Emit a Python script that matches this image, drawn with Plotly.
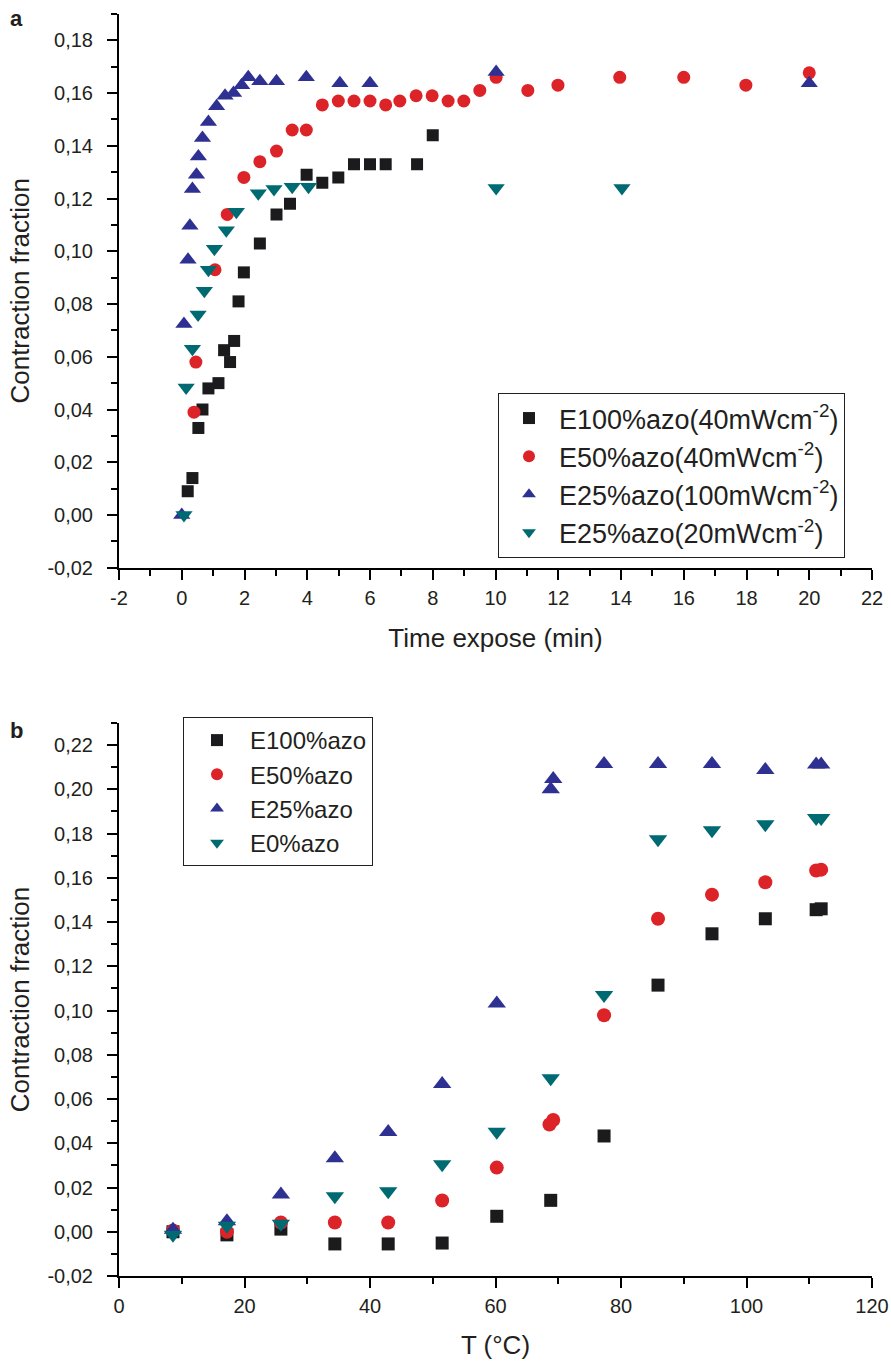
import plotly.graph_objects as go

# ---------------- Panel a: contraction vs exposure time ----------------
t_e100 = [0.19, 0.34, 0.53, 0.66, 0.85, 1.17, 1.35, 1.54, 1.67, 1.81, 1.98, 2.49, 3.02, 3.45, 3.98, 4.48, 4.99, 5.49, 6.0, 6.5, 7.5, 8.0]
y_e100 = [0.009, 0.014, 0.033, 0.040, 0.048, 0.050, 0.0625, 0.058, 0.066, 0.081, 0.092, 0.103, 0.114, 0.118, 0.129, 0.126, 0.128, 0.133, 0.133, 0.133, 0.133, 0.144]

t_e50 = [0.39, 0.45, 1.06, 1.45, 1.98, 2.49, 3.02, 3.52, 3.97, 4.48, 4.99, 5.49, 6.0, 6.5, 6.95, 7.47, 7.98, 8.49, 8.99, 9.5, 10.02, 11.03, 11.99, 13.96, 16.0, 17.98, 20.0]
y_e50 = [0.039, 0.058, 0.093, 0.114, 0.128, 0.134, 0.138, 0.146, 0.146, 0.1555, 0.157, 0.157, 0.157, 0.1555, 0.157, 0.159, 0.159, 0.157, 0.157, 0.161, 0.166, 0.161, 0.163, 0.166, 0.166, 0.163, 0.1677]

t_e25h = [0.0, 0.07, 0.2, 0.26, 0.34, 0.47, 0.53, 0.66, 0.85, 1.11, 1.38, 1.65, 1.91, 2.12, 2.49, 3.02, 3.97, 5.04, 6.0, 10.02, 20.0]
y_e25h = [0.0, 0.0724, 0.0968, 0.1097, 0.1236, 0.129, 0.136, 0.143, 0.149, 0.155, 0.159, 0.160, 0.163, 0.166, 0.1645, 0.1645, 0.166, 0.1637, 0.1637, 0.168, 0.1637]

t_e25l = [0.07, 0.14, 0.34, 0.52, 0.72, 0.85, 1.04, 1.42, 1.74, 2.44, 2.94, 3.52, 4.04, 10.02, 14.03]
y_e25l = [0.0, 0.0483, 0.063, 0.076, 0.085, 0.093, 0.101, 0.108, 0.115, 0.122, 0.1236, 0.1245, 0.1245, 0.124, 0.124]

names_a = ["E100%azo(40mWcm<sup>-2</sup>)", "E50%azo(40mWcm<sup>-2</sup>)",
           "E25%azo(100mWcm<sup>-2</sup>)", "E25%azo(20mWcm<sup>-2</sup>)"]

# ---------------- Panel b: contraction vs temperature ----------------
T_e100 = [8.6, 17.2, 25.8, 34.4, 42.9, 51.5, 60.2, 68.8, 77.3, 85.9, 94.5, 103.0, 111.1, 111.9]
c_e100 = [0.0, -0.0014, 0.0012, -0.0055, -0.0055, -0.0051, 0.007, 0.0142, 0.0433, 0.1115, 0.1347, 0.1415, 0.1456, 0.146]

T_e50 = [8.6, 17.2, 25.8, 34.4, 42.9, 51.5, 60.2, 68.6, 69.2, 77.3, 85.9, 94.5, 103.0, 111.1, 111.9]
c_e50 = [0.0006, 0.0, 0.0042, 0.0042, 0.0042, 0.0141, 0.029, 0.0485, 0.0505, 0.0979, 0.1415, 0.1524, 0.158, 0.1633, 0.1637]

T_e25 = [8.6, 17.2, 25.8, 34.4, 42.9, 51.5, 60.2, 68.8, 69.2, 77.3, 85.9, 94.5, 103.0, 111.1, 111.9]
c_e25 = [0.0009, 0.0047, 0.0168, 0.0332, 0.0451, 0.0668, 0.1032, 0.2001, 0.2047, 0.2115, 0.2115, 0.2115, 0.2088, 0.2112, 0.2112]

T_e0 = [8.6, 17.2, 25.8, 34.4, 42.9, 51.5, 60.2, 68.8, 77.3, 85.9, 94.5, 103.0, 111.1, 111.9]
c_e0 = [-0.0014, 0.0027, 0.0036, 0.016, 0.0183, 0.0305, 0.0452, 0.0694, 0.107, 0.1774, 0.1815, 0.1842, 0.187, 0.187]

names_b = ["E100%azo", "E50%azo", "E25%azo", "E0%azo"]

# tick labels
xa_vals = [-2, 0, 2, 4, 6, 8, 10, 12, 14, 16, 18, 20, 22]
xa_text = ["-2", "0", "2", "4", "6", "8", "10", "12", "14", "16", "18", "20", "22"]
ya_vals = [-0.02, 0.0, 0.02, 0.04, 0.06, 0.08, 0.10, 0.12, 0.14, 0.16, 0.18]
ya_text = ["-0,02", "0,00", "0,02", "0,04", "0,06", "0,08", "0,10", "0,12", "0,14", "0,16", "0,18"]
xb_vals = [0, 20, 40, 60, 80, 100, 120]
xb_text = ["0", "20", "40", "60", "80", "100", "120"]
yb_vals = [-0.02, 0.0, 0.02, 0.04, 0.06, 0.08, 0.10, 0.12, 0.14, 0.16, 0.18, 0.20, 0.22]
yb_text = ["-0,02", "0,00", "0,02", "0,04", "0,06", "0,08", "0,10", "0,12", "0,14", "0,16", "0,18", "0,20", "0,22"]

BLACK = "#1b1a1c"
RED = "#dc2328"
BLUE = "#2e3192"
TEAL = "#006a72"
colors = [BLACK, RED, BLUE, TEAL]
symbols = ["square", "circle", "triangle-up", "triangle-down"]
sizes = [12, 13, 15, 15]
FONT = "Liberation Sans, Arial, Helvetica, sans-serif"
TXT = "#231f20"

fig = go.Figure()

series_a = [(t_e100, y_e100), (t_e50, y_e50), (t_e25h, y_e25h), (t_e25l, y_e25l)]
for i, (xs, ys) in enumerate(series_a):
    fig.add_trace(go.Scatter(
        x=xs, y=ys, mode="markers", name=names_a[i],
        marker=dict(symbol=symbols[i], color=colors[i], size=sizes[i], line=dict(width=0)),
        xaxis="x", yaxis="y", legend="legend", legendgroup="a%d" % i))

series_b = [(T_e100, c_e100), (T_e50, c_e50), (T_e25, c_e25), (T_e0, c_e0)]
for i, (xs, ys) in enumerate(series_b):
    fig.add_trace(go.Scatter(
        x=xs, y=ys, mode="markers", name=names_b[i],
        marker=dict(symbol=symbols[i], color=colors[i], size=sizes[i] + 1, line=dict(width=0)),
        xaxis="x2", yaxis="y2", legend="legend2", legendgroup="b%d" % i))

axis_common = dict(
    showline=True, linecolor="black", linewidth=2, mirror=False,
    ticks="outside", ticklen=10, tickwidth=2, tickcolor="black",
    showgrid=False, zeroline=False, automargin=False,
    tickfont=dict(family=FONT, size=20, color=TXT),
)
minor_common = dict(ticks="outside", ticklen=6, tickwidth=2, tickcolor="black")
title_font = dict(family=FONT, size=26, color=TXT)

# page body margin is removed (post_script), so figure pixels = screen pixels
FIG_W, FIG_H = 891, 1362
ML, MT = 119, 14
PLOT_R = 872
PLOT_B = 1276
MR, MB = FIG_W - PLOT_R, FIG_H - PLOT_B
PW, PH = PLOT_R - ML, PLOT_B - MT


def py(y_screen):
    return (PLOT_B - y_screen) / PH


def px(x_screen):
    return (x_screen - ML) / PW


fig.update_layout(
    width=FIG_W, height=FIG_H,
    margin=dict(l=ML, r=MR, t=MT, b=MB, pad=0),
    paper_bgcolor="white", plot_bgcolor="white",
    font=dict(family=FONT, size=20, color=TXT),
    showlegend=True,
    xaxis=dict(domain=[0, 1], anchor="y", range=[-2, 22], tickvals=xa_vals, ticktext=xa_text,
               minor=dict(dtick=1, tick0=0, **minor_common), ticklabelstandoff=1,
               title=dict(text="Time expose (min)", font=title_font, standoff=21),
               **axis_common),
    yaxis=dict(domain=[py(567.7), 1.0], anchor="x", range=[-0.02, 0.19], tickvals=ya_vals, ticktext=ya_text,
               minor=dict(dtick=0.01, tick0=0, **minor_common), ticklabelstandoff=10,
               title=dict(text="Contraction fraction", font=title_font, standoff=10),
               **axis_common),
    xaxis2=dict(domain=[0, 1], anchor="y2", range=[0, 120], tickvals=xb_vals, ticktext=xb_text,
                minor=dict(dtick=10, tick0=0, **minor_common), ticklabelstandoff=1,
                title=dict(text="T (°C)", font=title_font, standoff=20),
                **axis_common),
    yaxis2=dict(domain=[0, py(723)], anchor="x2", range=[-0.02, 0.23], tickvals=yb_vals, ticktext=yb_text,
                minor=dict(dtick=0.01, tick0=0, **minor_common), ticklabelstandoff=10,
                title=dict(text="Contraction fraction", font=title_font, standoff=10),
                **axis_common),
    legend=dict(x=px(498), y=py(393), xanchor="left", yanchor="top",
                bgcolor="white", bordercolor=TXT, borderwidth=1,
                font=dict(family=FONT, size=27, color=TXT),
                tracegroupgap=0, itemsizing="constant", itemwidth=50),
    legend2=dict(x=px(183), y=py(717), xanchor="left", yanchor="top",
                 bgcolor="white", bordercolor=TXT, borderwidth=1,
                 font=dict(family=FONT, size=24, color=TXT),
                 tracegroupgap=0, itemsizing="constant", itemwidth=56),
)

for letter, lx, ly in [("a", 16, 18), ("b", 16, 730)]:
    fig.add_annotation(text="<b>%s</b>" % letter, xref="paper", yref="paper",
                       x=px(lx), y=py(ly),
                       xanchor="center", yanchor="middle", showarrow=False,
                       font=dict(family=FONT, size=22, color=TXT))

fig.write_html("out.html",
               config={"displayModeBar": False},
               post_script="document.body.style.margin='0';document.body.style.overflow='hidden';")
